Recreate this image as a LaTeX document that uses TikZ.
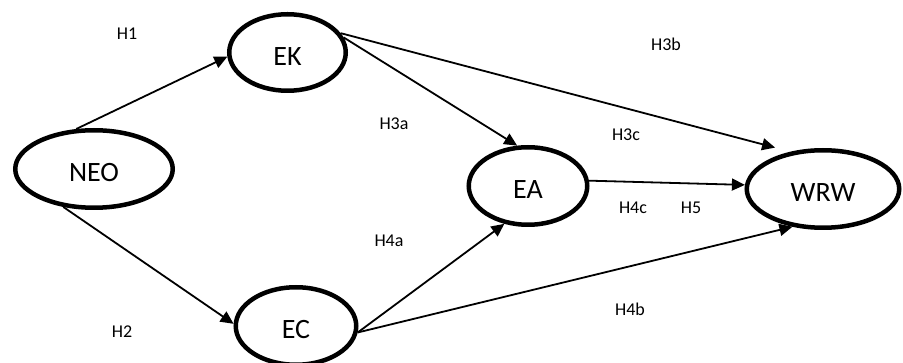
\documentclass[tikz,border=0pt]{standalone}
\usepackage{fontspec}
\setmainfont{Carlito}
\usetikzlibrary{shapes.geometric,arrows.meta}
\begin{document}
\begin{tikzpicture}[x=1pt,y=-1pt,
  var/.style={ellipse,draw=black,line width=4.5pt,inner sep=0pt,
    font=\fontsize{28}{30}\selectfont,text height=26pt,text depth=0pt},
  hyp/.style={font=\fontsize{18}{20}\selectfont,inner sep=0pt,text height=12pt,text depth=0pt},
  link/.style={line width=1.8pt,-{Triangle[length=13pt,width=12pt]}}]
\useasboundingbox (0,0) rectangle (903,363);
\node[var,minimum width=157.5pt,minimum height=77.5pt] (NEO) at (94,169) {NEO};
\node[var,minimum width=116.5pt,minimum height=76.5pt] (EK) at (287.5,52.5) {EK};
\node[var,minimum width=120.5pt,minimum height=77.5pt] (EC) at (296,326) {EC};
\node[var,minimum width=118.5pt,minimum height=77.5pt] (EA) at (528,186) {EA};
\node[var,minimum width=152.5pt,minimum height=77.5pt] (WRW) at (823,189) {WRW};
\draw[link] (NEO.114) -- (EK.184);
\draw[link] (NEO.231) -- (EC.178);
\draw[link] (EK.15) -- (EA.105);
\draw[link,shorten >=16pt] (EK.20) -- (WRW.131);
\draw[link] (EA.5) -- (WRW.177);
\draw[link] (EC.354) -- (EA.238);
\draw[link] (EC.354) -- (WRW.231);
\node[hyp] (h1) at (127,34) {H1};
\node[hyp] (h3a) at (394,124) {H3a};
\node[hyp] (h3b) at (666,45) {H3b};
\node[hyp] (h3c) at (626,135) {H3c};
\node[hyp] (h2) at (122,332) {H2};
\node[hyp] (h4a) at (389,241) {H4a};
\node[hyp] (h4c) at (633,208) {H4c};
\node[hyp] (h5) at (691,208) {H5};
\node[hyp] (h4b) at (630,310) {H4b};
\end{tikzpicture}
\end{document}
